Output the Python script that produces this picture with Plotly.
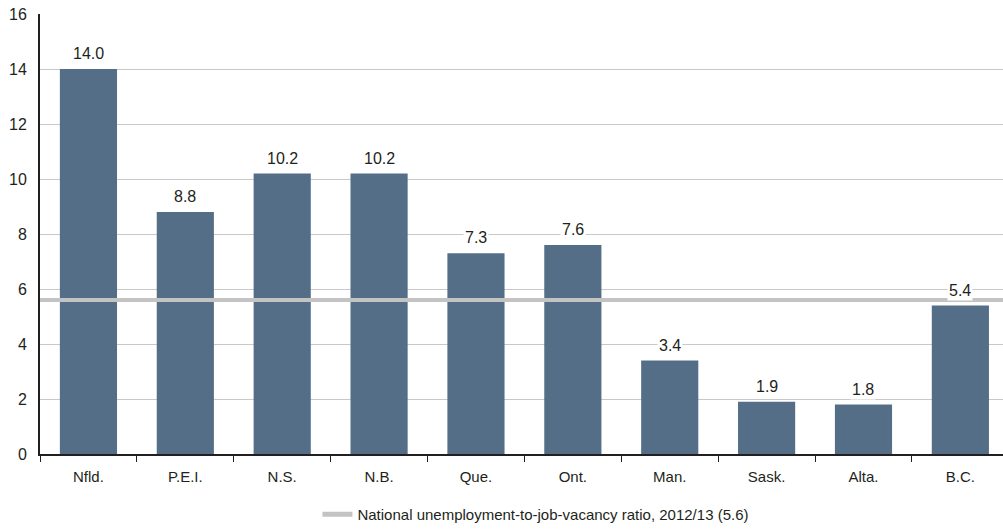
import plotly.graph_objects as go

# Provinces and their unemployment-to-job-vacancy ratios
provinces = ["Nfld.", "P.E.I.", "N.S.", "N.B.", "Que.", "Ont.", "Man.", "Sask.", "Alta.", "B.C."]
ratios = [14.0, 8.8, 10.2, 10.2, 7.3, 7.6, 3.4, 1.9, 1.8, 5.4]
national_ratio = 5.6
national_label = "National unemployment-to-job-vacancy ratio, 2012/13 (5.6)"
y_ticks = [0, 2, 4, 6, 8, 10, 12, 14, 16]

BAR = "#546e87"
NATIONAL = "#c3c3c3"
GRID = "#c8c8c8"
AXIS = "#231f20"
FONT = "Liberation Sans Narrow, Arial Narrow, Liberation Sans, sans-serif"

fig = go.Figure()
fig.add_trace(go.Bar(
    x=provinces, y=ratios, marker=dict(color=BAR, line=dict(width=0)),
    width=0.59, showlegend=False, hoverinfo="x+y",
))
# legend entry for the national reference line
fig.add_trace(go.Scatter(
    x=[None], y=[None], mode="lines", name=national_label,
    line=dict(color=NATIONAL, width=5),
))

# national reference line across the whole plot
fig.add_shape(type="line", xref="paper", x0=0, x1=1, yref="y",
              y0=national_ratio, y1=national_ratio,
              line=dict(color=NATIONAL, width=4), layer="above")

# value labels on a white box above each bar
for p, v in zip(provinces, ratios):
    fig.add_annotation(x=p, y=v, text=f"{v:.1f}", showarrow=False,
                       yanchor="bottom", yshift=5, bgcolor="white", borderpad=1,
                       font=dict(family=FONT, size=16, color="#231f20"))

fig.update_layout(
    width=1003, height=531,
    margin=dict(l=40, r=0, t=14, b=73),
    paper_bgcolor="white", plot_bgcolor="white",
    font=dict(family=FONT, size=15, color="#231f20"),
    legend=dict(orientation="h", x=0.515, xanchor="center", y=-0.138, yanchor="middle",
                font=dict(family=FONT, size=15, color="#231f20")),
    xaxis=dict(
        range=[-0.5, 9.44],
        showgrid=False, showline=True, linecolor=AXIS, linewidth=2,
        ticks="outside", tickson="boundaries", ticklen=6, tickcolor=AXIS, tickwidth=1,
        ticklabelstandoff=8,
        tickfont=dict(family=FONT, size=15),
    ),
    yaxis=dict(
        range=[0, 16], tickvals=y_ticks, showgrid=True, gridcolor=GRID, gridwidth=1,
        showline=True, linecolor=AXIS, linewidth=2, zeroline=False,
        ticks="", ticklabelstandoff=8,
        tickfont=dict(family=FONT, size=16),
    ),
)

fig.write_html("out.html")
